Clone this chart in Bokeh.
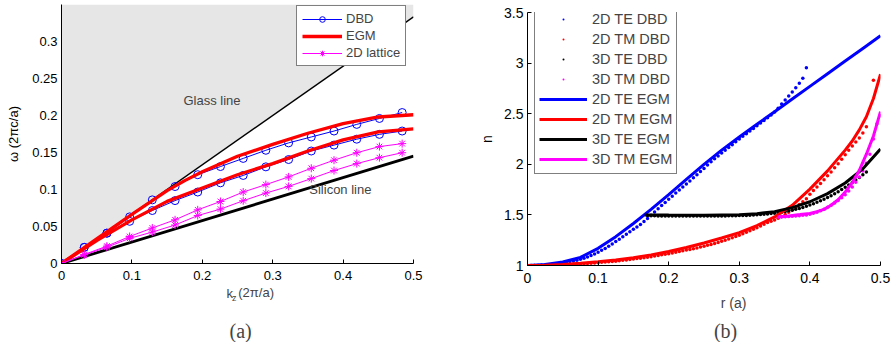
import numpy as np
from bokeh.plotting import figure
from bokeh.models import Range1d, FixedTicker, Legend, LegendItem, Label
from bokeh.layouts import row, column
from bokeh.embed import file_html
from bokeh.resources import INLINE

FONT = "Liberation Sans"
SERIF = "Liberation Serif"

# ---------------- panel (a) data ----------------
kz = [0.0, 0.0323, 0.0645, 0.0968, 0.1290, 0.1613, 0.1935, 0.2258,
      0.2581, 0.2903, 0.3226, 0.3548, 0.3871, 0.4194, 0.4516, 0.4839]
dbd_upper = [0, 0.0218, 0.041, 0.063, 0.086, 0.104, 0.120, 0.131,
             0.142, 0.153, 0.163, 0.171, 0.179, 0.188, 0.196, 0.204]
dbd_lower = [0, 0.0218, 0.041, 0.057, 0.0716, 0.085, 0.0966, 0.109,
             0.119, 0.1306, 0.1405, 0.152, 0.160, 0.168, 0.1745, 0.179]
lat_upper = [0, 0.0122, 0.0235, 0.0365, 0.048, 0.059, 0.0725, 0.0838,
             0.0966, 0.1066, 0.117, 0.1287, 0.1396, 0.1497, 0.158, 0.162]
lat_lower = [0, 0.0115, 0.022, 0.034, 0.0425, 0.052, 0.0648, 0.0735,
             0.0848, 0.0952, 0.1042, 0.1147, 0.1256, 0.135, 0.143, 0.1497]
egm_k_up = [0, 0.05, 0.1, 0.15, 0.175, 0.2, 0.25, 0.3, 0.35, 0.4, 0.45, 0.5]
egm_upper = [0, 0.0333, 0.0665, 0.0985, 0.112, 0.124, 0.145, 0.161, 0.176, 0.189, 0.198, 0.201]
egm_k_lo = [0, 0.05, 0.1, 0.15, 0.2, 0.25, 0.3, 0.35, 0.4, 0.45, 0.5]
egm_lower = [0, 0.031, 0.059, 0.084, 0.102, 0.12, 0.135, 0.152, 0.167, 0.178, 0.182]
edge_k = [0, 0.5]
glass_w = [0, 0.3333]
silicon_w = [0, 0.145]
cone_k = [0, 0.5, 0.5, 0]
cone_w = [0, 0.3333, 0.35, 0.35]
a_xticks = [0, 0.1, 0.2, 0.3, 0.4, 0.5]
a_xlabels = ["0", "0.1", "0.2", "0.3", "0.4", "0.5"]
a_yticks = [0, 0.05, 0.1, 0.15, 0.2, 0.25, 0.3]
a_ylabels = ["0", "0.05", "0.1", "0.15", "0.2", "0.25", "0.3"]

# ---------------- panel (b) data ----------------
te2d_dbd = [1.000, 1.000, 1.000, 1.000, 1.002, 1.005, 1.008, 1.011, 1.015, 1.020,
            1.025, 1.031, 1.037, 1.045, 1.053, 1.062, 1.072, 1.083, 1.098, 1.114,
            1.132, 1.150, 1.169, 1.190, 1.213, 1.236, 1.260, 1.285, 1.309, 1.333,
            1.357, 1.381, 1.406, 1.434, 1.464, 1.496, 1.529, 1.561, 1.592, 1.623,
            1.654, 1.685, 1.716, 1.746, 1.776, 1.806, 1.836, 1.866, 1.897, 1.928,
            1.959, 1.993, 2.025, 2.054, 2.083, 2.112, 2.139, 2.167, 2.194, 2.222,
            2.249, 2.276, 2.302, 2.329, 2.354, 2.381, 2.407, 2.434, 2.459, 2.488,
            2.518, 2.555, 2.595, 2.635, 2.675, 2.715, 2.757, 2.800, 2.850, 2.955]
tm2d_dbd = [1.000, 1.000, 1.000, 1.001, 1.001, 1.002, 1.003, 1.004, 1.005, 1.006,
            1.007, 1.008, 1.010, 1.012, 1.014, 1.016, 1.018, 1.020, 1.022, 1.025,
            1.028, 1.031, 1.034, 1.037, 1.040, 1.043, 1.047, 1.051, 1.055, 1.059,
            1.063, 1.068, 1.072, 1.077, 1.082, 1.087, 1.093, 1.099, 1.105, 1.111,
            1.117, 1.124, 1.131, 1.138, 1.145, 1.152, 1.159, 1.166, 1.174, 1.182,
            1.190, 1.199, 1.208, 1.218, 1.228, 1.239, 1.250, 1.262, 1.274, 1.287,
            1.300, 1.314, 1.328, 1.343, 1.358, 1.374, 1.391, 1.408, 1.426, 1.438,
            1.450, 1.467, 1.485, 1.505, 1.527, 1.550, 1.575, 1.602, 1.630, 1.660,
            1.705, 1.740, 1.775, 1.810, 1.848, 1.886, 1.925, 1.965, 2.005, 2.050,
            2.095, 2.140, 2.180, 2.220, 2.260, 2.310, 2.370]
tm2d_dbd_last_r = 0.49
tm2d_dbd_last_n = 2.83
te3d_dbd = [1.495, 1.492, 1.491, 1.490, 1.490, 1.489, 1.489, 1.489, 1.489, 1.489,
            1.489, 1.489, 1.489, 1.489, 1.489, 1.489, 1.489, 1.489, 1.489, 1.490,
            1.490, 1.490, 1.490, 1.491, 1.491, 1.492, 1.493, 1.494, 1.495, 1.497,
            1.499, 1.501, 1.503, 1.506, 1.509, 1.513, 1.517, 1.522, 1.527, 1.533,
            1.540, 1.547, 1.555, 1.564, 1.574, 1.585, 1.597, 1.610, 1.624, 1.639,
            1.655, 1.672, 1.690, 1.709, 1.729, 1.750, 1.772, 1.795, 1.819, 1.844,
            1.870, 1.897, 1.925]
tm3d_dbd = [1.480, 1.480, 1.481, 1.483, 1.486, 1.489, 1.492, 1.496, 1.500, 1.507,
            1.516, 1.527, 1.541, 1.557, 1.575, 1.596, 1.618, 1.643, 1.670, 1.700,
            1.735, 1.775, 1.822, 1.875, 1.935, 2.010, 2.100, 2.250, 2.400, 2.480]

te2d_r = [0, 0.025, 0.05, 0.075, 0.1, 0.125, 0.15, 0.175, 0.2, 0.225, 0.25, 0.275,
          0.3, 0.325, 0.35, 0.375, 0.4, 0.425, 0.45, 0.475, 0.5]
te2d_egm = [1.0, 1.01, 1.035, 1.08, 1.17, 1.285, 1.415, 1.555, 1.70, 1.85, 2.0, 2.14,
            2.27, 2.395, 2.52, 2.645, 2.77, 2.895, 3.02, 3.145, 3.27]
tm2d_r = [0, 0.025, 0.05, 0.075, 0.1, 0.125, 0.15, 0.175, 0.2, 0.225, 0.25, 0.275,
          0.3, 0.325, 0.35, 0.375, 0.4, 0.425, 0.45, 0.46, 0.47, 0.48, 0.49, 0.5]
tm2d_egm = [1.0, 1.003, 1.01, 1.022, 1.037, 1.055, 1.077, 1.105, 1.138, 1.178, 1.222, 1.272,
            1.325, 1.395, 1.48, 1.595, 1.755, 1.935, 2.14, 2.23, 2.34, 2.47, 2.65, 2.89]
te3d_r = [0.166, 0.2, 0.25, 0.3, 0.325, 0.35, 0.375, 0.4, 0.425, 0.45, 0.475, 0.5]
te3d_egm = [1.5, 1.498, 1.497, 1.502, 1.512, 1.532, 1.572, 1.63, 1.71, 1.815, 1.955, 2.15]
tm3d_r = [0.354, 0.37, 0.386, 0.4, 0.41, 0.42, 0.43, 0.44, 0.45, 0.46, 0.47, 0.48, 0.49, 0.5]
tm3d_egm = [1.48, 1.49, 1.503, 1.515, 1.532, 1.555, 1.595, 1.65, 1.725, 1.82, 1.94, 2.1, 2.28, 2.52]

b_xticks = [0, 0.1, 0.2, 0.3, 0.4, 0.5]
b_xlabels = ["0", "0.1", "0.2", "0.3", "0.4", "0.5"]
b_yticks = [1, 1.5, 2, 2.5, 3, 3.5]
b_ylabels = ["1", "1.5", "2", "2.5", "3", "3.5"]

# r grids of the dotted (DBD) series
te2d_dbd_r = np.linspace(0.0, 0.395, len(te2d_dbd))
tm2d_dbd_r = np.append(np.linspace(0.0, 0.48, len(tm2d_dbd)), tm2d_dbd_last_r)
tm2d_dbd_all = list(tm2d_dbd) + [tm2d_dbd_last_n]
te3d_dbd_r = np.linspace(0.17, 0.48, len(te3d_dbd))
tm3d_dbd_r = np.linspace(0.355, 0.5, len(tm3d_dbd))


def style_axes(p, xt, xl, yt, yl, fs, ytick_in):
    p.xgrid.visible = False
    p.ygrid.visible = False
    for ax in (p.xaxis[0], p.yaxis[0]):
        ax.axis_line_color = "black"
        ax.axis_line_width = 1
        ax.major_tick_line_color = "black"
        ax.major_tick_out = 0
        ax.minor_tick_line_color = None
        ax.major_label_text_font = FONT
        ax.major_label_text_font_size = fs
        ax.major_label_text_color = "black"
        ax.axis_label_text_font = FONT
        ax.axis_label_text_font_style = "normal"
        ax.axis_label_text_color = "black"
    p.xaxis[0].ticker = FixedTicker(ticks=xt)
    p.xaxis[0].major_label_overrides = {t: s for t, s in zip(xt, xl)}
    p.xaxis[0].major_tick_in = 4
    p.xaxis[0].major_label_standoff = 7
    p.yaxis[0].ticker = FixedTicker(ticks=yt)
    p.yaxis[0].major_label_overrides = {t: s for t, s in zip(yt, yl)}
    p.yaxis[0].major_tick_in = ytick_in
    p.yaxis[0].major_label_standoff = 4


def caption_fig(w, h):
    c = figure(width=w, height=h, x_range=Range1d(0, w), y_range=Range1d(h, 0),
               x_axis_type=None, y_axis_type=None, min_border=0,
               output_backend="svg", toolbar_location=None, outline_line_color=None,
               background_fill_color="white", border_fill_color="white")
    c.xgrid.visible = False
    c.ygrid.visible = False
    return c


# ---------------- panel (a) ----------------
p1 = figure(frame_width=352, frame_height=259, min_border_left=61, min_border_right=35,
            min_border_top=4, min_border_bottom=22,
            x_range=Range1d(0, 0.5), y_range=Range1d(0, 0.35),
            output_backend="svg", toolbar_location=None, outline_line_color=None,
            background_fill_color="white", border_fill_color="white")
style_axes(p1, a_xticks, a_xlabels, a_yticks, a_ylabels, "13px", 0)
p1.yaxis[0].axis_label = "ω (2πc/a)"
p1.yaxis[0].axis_label_text_font_size = "13px"
p1.yaxis[0].axis_label_standoff = 8

p1.patch(cone_k, cone_w, fill_color="#e6e6e6", line_color=None)
p1.line(edge_k, glass_w, line_color="black", line_width=1.4)
p1.line(edge_k, silicon_w, line_color="black", line_width=2.8)

dl1 = p1.line(kz, dbd_upper, line_color="blue", line_width=1)
ds1 = p1.scatter(kz, dbd_upper, marker="circle", size=8, fill_color=None, line_color="blue", line_width=1)
p1.line(kz, dbd_lower, line_color="blue", line_width=1)
p1.scatter(kz, dbd_lower, marker="circle", size=8, fill_color=None, line_color="blue", line_width=1)

el1 = p1.line(egm_k_up, egm_upper, line_color="red", line_width=3.3)
p1.line(egm_k_lo, egm_lower, line_color="red", line_width=3.3)

ll1 = p1.line(kz, lat_upper, line_color="#ff00ff", line_width=1)
ls1 = p1.scatter(kz, lat_upper, marker="asterisk", size=8, line_color="#ff00ff", line_width=1)
p1.line(kz, lat_lower, line_color="#ff00ff", line_width=1)
p1.scatter(kz, lat_lower, marker="asterisk", size=8, line_color="#ff00ff", line_width=1)

leg1 = Legend(items=[LegendItem(label="DBD", renderers=[dl1, ds1]),
                     LegendItem(label="EGM", renderers=[el1]),
                     LegendItem(label="2D lattice", renderers=[ll1, ls1])],
              location=(235, 197), orientation="vertical",
              label_text_font=FONT, label_text_font_size="13px",
              label_height=14, glyph_height=14, glyph_width=40, spacing=2,
              padding=5, margin=0, label_standoff=4,
              border_line_color="black", border_line_width=1,
              background_fill_color="white", background_fill_alpha=1)
p1.add_layout(leg1, "center")

p1.add_layout(Label(x=0.1733, y=0.2206, text="Glass line", text_font=FONT,
                    text_font_size="13px", text_baseline="middle", text_align="left"))
p1.add_layout(Label(x=0.352, y=0.1005, text="Silicon line", text_font=FONT,
                    text_font_size="13px", text_baseline="middle", text_align="left"))

c1 = caption_fig(448, 57)   # covers picture rows 285..342 below panel (a)
c1.add_layout(Label(x=210, y=8, text="k", text_font=FONT, text_font_size="13px",
                    text_baseline="alphabetic", text_align="left"))
c1.add_layout(Label(x=217, y=12.5, text="z", text_font=FONT, text_font_size="9px",
                    text_baseline="alphabetic", text_align="left"))
c1.add_layout(Label(x=225, y=7, text="(2π/a)", text_font=FONT, text_font_size="13px",
                    text_baseline="alphabetic", text_align="left"))
c1.add_layout(Label(x=228, y=45, text="(a)", text_font=SERIF, text_font_size="20px",
                    text_baseline="middle", text_align="center"))

# ---------------- panel (b) ----------------
p2 = figure(frame_width=353, frame_height=253, min_border_left=79, min_border_right=10,
            min_border_top=12, min_border_bottom=22,
            x_range=Range1d(0, 0.5), y_range=Range1d(1, 3.5),
            output_backend="svg", toolbar_location=None, outline_line_color=None,
            background_fill_color="white", border_fill_color="white")
style_axes(p2, b_xticks, b_xlabels, b_yticks, b_ylabels, "14px", 4)
p2.yaxis[0].axis_label = "n"
p2.yaxis[0].axis_label_text_font_size = "14px"
p2.yaxis[0].axis_label_standoff = 6

s1 = p2.scatter(te2d_dbd_r, te2d_dbd, marker="dot", size=14, line_color="blue", fill_color="blue")
s2 = p2.scatter(tm2d_dbd_r, tm2d_dbd_all, marker="dot", size=14, line_color="red", fill_color="red")
s3 = p2.scatter(te3d_dbd_r, te3d_dbd, marker="dot", size=14, line_color="black", fill_color="black")
s4 = p2.scatter(tm3d_dbd_r, tm3d_dbd, marker="dot", size=14, line_color="#ff00ff", fill_color="#ff00ff")
l1 = p2.line(te2d_r, te2d_egm, line_color="blue", line_width=3)
l2 = p2.line(tm2d_r, tm2d_egm, line_color="red", line_width=3)
l3 = p2.line(te3d_r, te3d_egm, line_color="black", line_width=3)
l4 = p2.line(tm3d_r, tm3d_egm, line_color="#ff00ff", line_width=3)

leg2 = Legend(items=[LegendItem(label="2D TE DBD", renderers=[s1]),
                     LegendItem(label="2D TM DBD", renderers=[s2]),
                     LegendItem(label="3D TE DBD", renderers=[s3]),
                     LegendItem(label="3D TM DBD", renderers=[s4]),
                     LegendItem(label="2D TE EGM", renderers=[l1]),
                     LegendItem(label="2D TM EGM", renderers=[l2]),
                     LegendItem(label="3D TE EGM", renderers=[l3]),
                     LegendItem(label="3D TM EGM", renderers=[l4])],
              location=(7, 91), orientation="vertical",
              label_text_font=FONT, label_text_font_size="14.5px",
              label_height=20, glyph_height=20, glyph_width=48, spacing=0,
              padding=4, margin=0, label_standoff=5,
              border_line_color="black", border_line_width=1,
              background_fill_color="white", background_fill_alpha=1)
p2.add_layout(leg2, "center")

c2 = caption_fig(442, 55)   # covers picture rows 287..342 below panel (b)
c2.add_layout(Label(x=242, y=15, text="r (a)", text_font=FONT, text_font_size="14px",
                    text_baseline="alphabetic", text_align="left"))
c2.add_layout(Label(x=248, y=43, text="(b)", text_font=SERIF, text_font_size="20px",
                    text_baseline="middle", text_align="center"))

layout = row(column(p1, c1), column(p2, c2))
open("out.html", "w").write(file_html(layout, INLINE))
